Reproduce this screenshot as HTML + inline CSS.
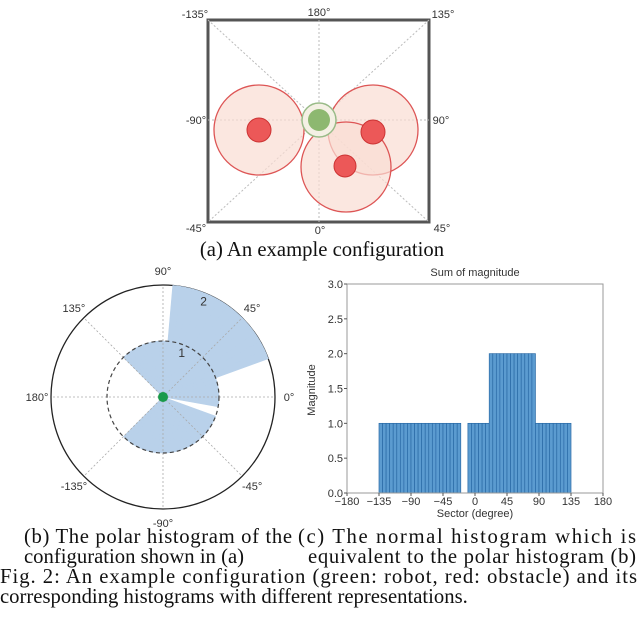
<!DOCTYPE html>
<html><head><meta charset="utf-8"><style>
body{margin:0;background:#fff;}
svg{display:block;}
.s{font-family:"Liberation Sans",sans-serif;fill:#333;}
.t{font-family:"Liberation Serif",serif;fill:#111;font-size:20.7px;}
</style></head><body>
<svg id="fig" width="640" height="617" viewBox="0 0 640 617">
<g>
 <rect x="208" y="20" width="221" height="202" fill="#fff" stroke="#555" stroke-width="3"/>
 <g stroke="#bbb" stroke-width="1" stroke-dasharray="2,2">
  <line x1="208" y1="20" x2="429" y2="222"/><line x1="429" y1="20" x2="208" y2="222"/>
  <line x1="319" y1="20" x2="319" y2="222"/><line x1="208" y1="120" x2="429" y2="120"/>
 </g>
 <g fill="#f9ddd3" fill-opacity="0.7" stroke="#d55" stroke-width="1.3">
  <circle cx="259" cy="130" r="45"/>
  <circle cx="373" cy="130" r="45"/>
  <circle cx="346" cy="167" r="45"/>
 </g>
 <g fill="#ec5858" stroke="#c33" stroke-width="1">
  <circle cx="259" cy="130" r="12"/>
  <circle cx="373" cy="132" r="12"/>
  <circle cx="345" cy="166" r="11"/>
 </g>
 <circle cx="319" cy="120" r="17" fill="#f4f0e4" stroke="#9b8" stroke-width="1.5"/>
 <circle cx="319" cy="120" r="11" fill="#8db870"/>
 <g class="s" font-size="11" text-anchor="middle">
  <text x="195" y="18">-135°</text>
  <text x="319" y="16">180°</text>
  <text x="443" y="18">135°</text>
  <text x="196" y="124">-90°</text>
  <text x="441" y="124">90°</text>
  <text x="196" y="232">-45°</text>
  <text x="320" y="234">0°</text>
  <text x="442" y="232">45°</text>
 </g>
 <text class="t" x="322" y="256" text-anchor="middle">(a) An example configuration</text>
</g>
<g id="polar"></g>
<g id="hist"></g>
<g>
 <text class="t" x="24" y="543" textLength="268" lengthAdjust="spacing">(b) The polar histogram of the</text>
 <text class="t" x="24" y="563">configuration shown in (a)</text>
 <text class="t" x="298" y="543" textLength="338" lengthAdjust="spacing">(c) The normal histogram which is</text>
 <text class="t" x="308" y="563" textLength="328" lengthAdjust="spacing">equivalent to the polar histogram (b)</text>
 <text class="t" x="0" y="583" textLength="637" lengthAdjust="spacing">Fig. 2: An example configuration (green: robot, red: obstacle) and its</text>
 <text class="t" x="0" y="603">corresponding histograms with different representations.</text>
</g>
</svg>
<script>
const binStarts=[-135,-130,-125,-120,-115,-110,-105,-100,-95,-90,-85,-80,-75,-70,-65,-60,-55,-50,-45,-40,-35,-30,-25,-10,-5,0,5,10,15,20,25,30,35,40,45,50,55,60,65,70,75,80,85,90,95,100,105,110,115,120,125,130];
const binValues=[1,1,1,1,1,1,1,1,1,1,1,1,1,1,1,1,1,1,1,1,1,1,1,1,1,1,1,1,1,2,2,2,2,2,2,2,2,2,2,2,2,2,1,1,1,1,1,1,1,1,1,1];
const binWidth=5;
const xTicks=[-180,-135,-90,-45,0,45,90,135,180];
const yTicks=[0.0,0.5,1.0,1.5,2.0,2.5,3.0];
const polarAngleTicks=[0,45,90,135,180,-135,-90,-45];
const polarRadiusTicks=[1,2];
const NS='http://www.w3.org/2000/svg';
function mk(p,tag,attrs){const e=document.createElementNS(NS,tag);for(const k in attrs)e.setAttribute(k,attrs[k]);p.appendChild(e);return e;}

const P=document.getElementById('polar');
const cx=163,cy=397,R=112,rMax=2;
const rad=v=>v/rMax*R;
function pt(a,r){const t=a*Math.PI/180;return [cx+r*Math.cos(t),cy-r*Math.sin(t)];}
let o=mk(P,'circle',{cx:cx,cy:cy,r:R,fill:'#fff',stroke:'#222','stroke-width':1.3});


binStarts.forEach((s,i)=>{
 const r=rad(binValues[i]);const a=pt(s,r),b=pt(s+binWidth,r);
 const w=mk(P,'path',{d:`M${cx},${cy}L${a[0]},${a[1]}A${r},${r} 0 0 0 ${b[0]},${b[1]}Z`,fill:'#b9d1ea',stroke:'#b9d1ea','stroke-width':0.6});
 
 
});
polarAngleTicks.forEach(a=>{
 const e=pt(a,R);
 const l=mk(P,'line',{x1:cx,y1:cy,x2:e[0],y2:e[1],stroke:'#aaa','stroke-width':0.8,'stroke-dasharray':'2,2'});
 
 
 const lp=pt(a,R+14);
 const t=mk(P,'text',{x:lp[0],y:lp[1]+4,'text-anchor':'middle','font-size':11,class:'s'});
 t.textContent=a+'°';
 
 
});
polarRadiusTicks.forEach(v=>{
 if(v<rMax){const c=mk(P,'circle',{cx:cx,cy:cy,r:rad(v),fill:'none',stroke:'#444','stroke-width':1.2,'stroke-dasharray':'4,3'});
 
 }
 const p=pt(67,rad(v)-8);
 const t=mk(P,'text',{x:p[0],y:p[1]+4,'text-anchor':'middle','font-size':12,class:'s'});
 t.textContent=v;
 
 
});
let g=mk(P,'circle',{cx:cx,cy:cy,r:5,fill:'#1a9a4a'});



const H=document.getElementById('hist');
const X0=347,X1=603,Y0=493,Y1=284;
const xs=v=>X0+(v+180)/360*(X1-X0);
const ys=v=>Y0-v/3*(Y0-Y1);
binStarts.forEach((s,i)=>{
 const b=mk(H,'rect',{x:xs(s),y:ys(binValues[i]),width:xs(s+binWidth)-xs(s),height:Y0-ys(binValues[i]),fill:'#5b9bd0',stroke:'#2a6aa6','stroke-width':0.7});
 
 
});
let fr=mk(H,'rect',{x:X0,y:Y1,width:X1-X0,height:Y0-Y1,fill:'none',stroke:'#999','stroke-width':1});


xTicks.forEach(v=>{
 mk(H,'line',{x1:xs(v),y1:Y0,x2:xs(v),y2:Y0+3,stroke:'#555'});
 const t=mk(H,'text',{x:xs(v),y:Y0+12,'text-anchor':'middle','font-size':11,class:'s'});
 t.textContent=(v<0?'\u2212'+(-v):v);
 
 
});
yTicks.forEach(v=>{
 mk(H,'line',{x1:X0-3,y1:ys(v),x2:X0,y2:ys(v),stroke:'#555'});
 const t=mk(H,'text',{x:X0-4,y:ys(v)+4,'text-anchor':'end','font-size':11,class:'s'});
 t.textContent=v.toFixed(1);
 
 
});
let tt=mk(H,'text',{x:475,y:276,'text-anchor':'middle','font-size':11,class:'s'});tt.textContent='Sum of magnitude';


let xl=mk(H,'text',{x:475,y:517,'text-anchor':'middle','font-size':11,class:'s'});xl.textContent='Sector (degree)';


let yl=mk(H,'text',{x:0,y:0,'text-anchor':'middle','font-size':11,class:'s',transform:'translate(315,390) rotate(-90)'});yl.textContent='Magnitude';


</script>
</body></html>
